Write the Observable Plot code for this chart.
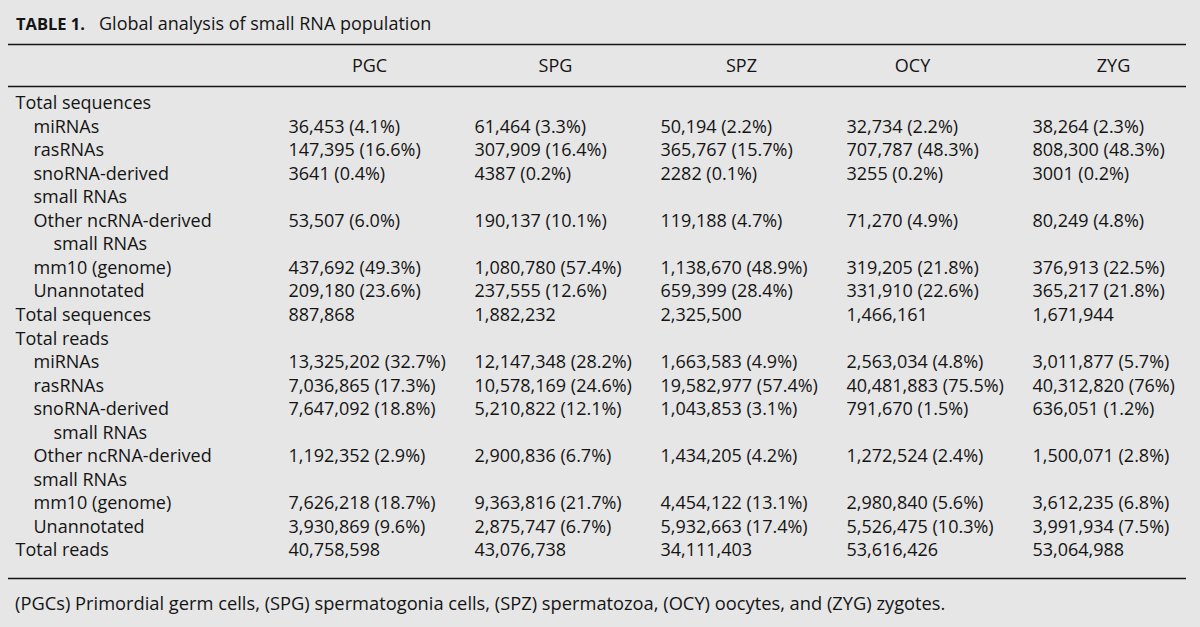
<!DOCTYPE html>
<html>
<head>
<meta charset="utf-8">
<script src="https://cdn.jsdelivr.net/npm/d3@7"></script>
<script src="https://cdn.jsdelivr.net/npm/@observablehq/plot@0.6"></script>
<style>
  html, body { margin: 0; padding: 0; background: #e6e6e6; }
  body { width: 1200px; height: 627px; overflow: hidden; position: relative;
         font-family: "Open Sans", sans-serif; color: #141414; }
  #title { position: absolute; top: 11px; left: 16px; font-size: 18px; line-height: 24px; white-space: nowrap; }
  #title b { font-weight: 700; font-size: 16.5px; margin-right: 14px; }
  #chart { position: absolute; top: 36px; left: 0; }
  #note { position: absolute; top: 591px; left: 15px; font-size: 18.3px; line-height: 24px; white-space: nowrap; }
</style>
</head>
<body>
<div id="title"><b>TABLE 1.</b>Global analysis of small RNA population</div>
<div id="chart"></div>
<div id="note">(PGCs) Primordial germ cells, (SPG) spermatogonia cells, (SPZ) spermatozoa, (OCY) oocytes, and (ZYG) zygotes.</div>
<script>
// Column headers (developmental stages)
const stages = ["PGC", "SPG", "SPZ", "OCY", "ZYG"];

// Row labels and their indentation level
const rowLabels = [
  "Total sequences", "miRNAs", "rasRNAs", "snoRNA-derived", "small RNAs",
  "Other ncRNA-derived", "small RNAs", "mm10 (genome)", "Unannotated", "Total sequences",
  "Total reads", "miRNAs", "rasRNAs", "snoRNA-derived", "small RNAs",
  "Other ncRNA-derived", "small RNAs", "mm10 (genome)", "Unannotated", "Total reads"
];
const rowLevels = [0, 1, 1, 1, 1, 1, 2, 1, 1, 0, 0, 1, 1, 1, 2, 1, 1, 1, 1, 0];

// Rows that carry values: miRNAs, rasRNAs, snoRNA, other ncRNA, mm10, unannotated, total
const seqRows  = [1, 2, 3, 5, 7, 8, 9];
const readRows = [11, 12, 13, 15, 17, 18, 19];

// Total sequences (counts; last entry = total) and percentages
const pgcSeq = [36453, 147395, 3641, 53507, 437692, 209180, 887868];
const spgSeq = [61464, 307909, 4387, 190137, 1080780, 237555, 1882232];
const spzSeq = [50194, 365767, 2282, 119188, 1138670, 659399, 2325500];
const ocySeq = [32734, 707787, 3255, 71270, 319205, 331910, 1466161];
const zygSeq = [38264, 808300, 3001, 80249, 376913, 365217, 1671944];
const pgcSeqPct = ["4.1", "16.6", "0.4", "6.0", "49.3", "23.6"];
const spgSeqPct = ["3.3", "16.4", "0.2", "10.1", "57.4", "12.6"];
const spzSeqPct = ["2.2", "15.7", "0.1", "4.7", "48.9", "28.4"];
const ocySeqPct = ["2.2", "48.3", "0.2", "4.9", "21.8", "22.6"];
const zygSeqPct = ["2.3", "48.3", "0.2", "4.8", "22.5", "21.8"];

// Total reads (counts; last entry = total) and percentages
const pgcReads = [13325202, 7036865, 7647092, 1192352, 7626218, 3930869, 40758598];
const spgReads = [12147348, 10578169, 5210822, 2900836, 9363816, 2875747, 43076738];
const spzReads = [1663583, 19582977, 1043853, 1434205, 4454122, 5932663, 34111403];
const ocyReads = [2563034, 40481883, 791670, 1272524, 2980840, 5526475, 53616426];
const zygReads = [3011877, 40312820, 636051, 1500071, 3612235, 3991934, 53064988];
const pgcReadsPct = ["32.7", "17.3", "18.8", "2.9", "18.7", "9.6"];
const spgReadsPct = ["28.2", "24.6", "12.1", "6.7", "21.7", "6.7"];
const spzReadsPct = ["4.9", "57.4", "3.1", "4.2", "13.1", "17.4"];
const ocyReadsPct = ["4.8", "75.5", "1.5", "2.4", "5.6", "10.3"];
const zygReadsPct = ["5.7", "76", "1.2", "2.8", "6.8", "7.5"];

// Table rule positions in row units (above header, below header, below last row)
const ruleRows = [-2.51, -0.72, 20.19];
const headerRow = -1.57;

// ---- build table cells ----
const fmt = n => n < 10000 ? String(n) : d3.format(",")(n);
const seqCols  = [[pgcSeq, pgcSeqPct], [spgSeq, spgSeqPct], [spzSeq, spzSeqPct], [ocySeq, ocySeqPct], [zygSeq, zygSeqPct]];
const readCols = [[pgcReads, pgcReadsPct], [spgReads, spgReadsPct], [spzReads, spzReadsPct], [ocyReads, ocyReadsPct], [zygReads, zygReadsPct]];
const cells = [];
function addBlock(cols, rows) {
  cols.forEach(([counts, pcts], c) => {
    counts.forEach((n, k) => {
      cells.push({
        stage: stages[c],
        row: rows[k],
        label: fmt(n) + (k < pcts.length ? ` (${pcts[k]}%)` : "")
      });
    });
  });
}
addBlock(seqCols, seqRows);
addBlock(readCols, readRows);

const labelRows = rowLabels.map((t, i) => ({row: i, text: t, level: rowLevels[i]}));

const FS = 18;
const ink = "#141414";
const indent = [7, 25, 45];

const chart = Plot.plot({
  width: 1200,
  height: 556,
  marginLeft: 8,
  marginRight: 14,
  marginTop: 0,
  marginBottom: 0,
  style: {background: "transparent", fontFamily: "'Open Sans', sans-serif", color: ink},
  x: {type: "point", domain: stages, range: [287, 1033], padding: 0, axis: null},
  y: {type: "linear", domain: [0, 19], range: [67, 514], axis: null},
  marks: [
    Plot.ruleY(ruleRows, {stroke: ink, strokeWidth: 1.6}),
    Plot.text(stages, {filter: d => d !== "OCY", x: d => d, y: () => headerRow, text: d => d, dx: 81, textAnchor: "middle", fontSize: FS, fill: ink}),
    Plot.text(stages, {filter: d => d === "OCY", x: d => d, y: () => headerRow, text: d => d, dx: 66, textAnchor: "middle", fontSize: FS, fill: ink}),
    ...[0, 1, 2].map(lv => Plot.text(labelRows, {
      filter: d => d.level === lv,
      y: "row", text: "text", frameAnchor: "left", dx: indent[lv],
      textAnchor: "start", fontSize: FS, fill: ink
    })),
    Plot.text(cells, {x: "stage", y: "row", text: "label", textAnchor: "start", fontSize: FS, fill: ink})
  ]
});
document.getElementById("chart").appendChild(chart);
</script>
</body>
</html>
